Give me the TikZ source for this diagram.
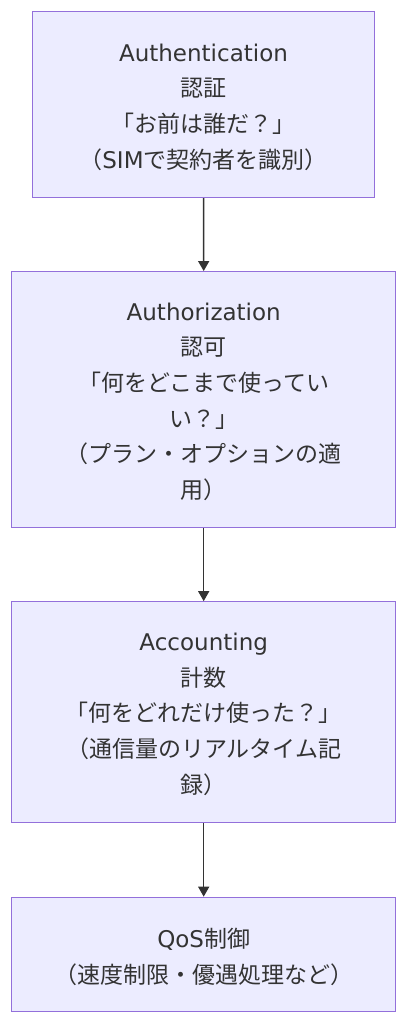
\documentclass[tikz,border=0pt]{standalone}
\usepackage{fontspec}
\setmainfont{Noto Sans CJK JP}
\newfontfamily\lat{DejaVu Sans}
\usetikzlibrary{arrows.meta}
\definecolor{boxfill}{HTML}{ECECFF}
\definecolor{boxline}{HTML}{9370DB}
\definecolor{ink}{HTML}{333333}
\begin{document}
\begin{tikzpicture}[x=1pt,y=-1pt,
  box/.style={draw=boxline, fill=boxfill, line width=1.3pt, inner sep=0pt},
  lbl/.style={text=ink, align=center, inner sep=0pt,
    font=\fontsize{23}{35.7}\selectfont},
  flow/.style={draw=ink, line width=1.5pt, -{Triangle[width=11pt,length=10pt]}}]
\useasboundingbox[fill=white] (0,0) rectangle (407,1024);
\node[box, minimum width=342pt, minimum height=186pt] (authn) at (203.5,104.5) {};
\node[box, minimum width=384pt, minimum height=256pt] (authz) at (203.7,399.7) {};
\node[box, minimum width=384pt, minimum height=221pt] (acct) at (203.7,712.3) {};
\node[box, minimum width=384pt, minimum height=114.4pt] (qos) at (203.7,954.5) {};
\node[lbl] (authn-t) at ([yshift=-2.5pt]authn.center)
  {{\lat Authentication}\\認証\\「お前は誰だ？」\\（{\lat SIM}で契約者を識別）};
\node[lbl] (authz-t) at ([yshift=-2pt]authz.center)
  {{\lat Authorization}\\認可\\「何をどこまで使ってい\\い？」\\（プラン・オプションの適\\用）};
\node[lbl] (acct-t) at ([yshift=-2pt]acct.center)
  {{\lat Accounting}\\計数\\「何をどれだけ使った？」\\（通信量のリアルタイム記\\録）};
\node[lbl, font=\fontsize{23}{36.7}\selectfont] (qos-t) at ([yshift=-2.5pt]qos.center)
  {{\lat QoS}制御\\（速度制限・優遇処理など）};
\draw[flow] (authn.south) -- (authz.north);
\draw[flow] (authz.south) -- (acct.north);
\draw[flow] (acct.south) -- (qos.north);
\end{tikzpicture}
\end{document}
